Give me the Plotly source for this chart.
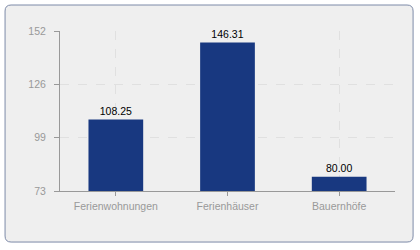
import plotly.graph_objects as go

categories = ["Ferienwohnungen", "Ferienhäuser", "Bauernhöfe"]
values = [108.25, 146.31, 80.00]
y_tickvals = [73, 99.33, 125.67, 152]
y_ticktext = ["73", "99", "126", "152"]

font_family = "Liberation Sans"

# outer rounded frame, in paper coordinates of the plot area (335 x 160 px)
L, R, T, B = -0.164, 1.054, 1.1625, -0.319
rx, ry = 0.018, 0.0375
frame_path = (
    f"M {L+rx},{T} L {R-rx},{T} Q {R},{T} {R},{T-ry} "
    f"L {R},{B+ry} Q {R},{B} {R-rx},{B} "
    f"L {L+rx},{B} Q {L},{B} {L},{B+ry} "
    f"L {L},{T-ry} Q {L},{T} {L+rx},{T} Z"
)

fig = go.Figure()
fig.add_trace(go.Bar(
    x=categories, y=values,
    width=0.49,
    marker=dict(color="#183880", line=dict(width=0)),
    text=[f"{v:.2f}" for v in values],
    textposition="outside",
    textfont=dict(color="#000000", size=10.5, family=font_family),
    cliponaxis=False,
))

fig.update_layout(
    width=420, height=250,
    margin=dict(l=60, r=25, t=31, b=59),
    paper_bgcolor="white",
    plot_bgcolor="#f9f9f9",
    showlegend=False,
    font=dict(family=font_family, size=10.5, color="#999999"),
    shapes=[dict(
        type="path", xref="paper", yref="paper", layer="below",
        path=frame_path,
        fillcolor="#efefef", line=dict(color="#7d8aa8", width=1),
    )],
)
fig.update_xaxes(
    showline=True, linecolor="#999999", linewidth=1,
    showgrid=True, gridcolor="#e0e0e0", griddash="dash",
    ticks="outside", ticklen=4, tickcolor="#999999",
    tickfont=dict(color="#999999", size=10.5),
    ticklabelstandoff=1,
)
fig.update_yaxes(
    range=[73, 152],
    tickvals=y_tickvals, ticktext=y_ticktext,
    showline=True, linecolor="#999999", linewidth=1,
    showgrid=True, gridcolor="#e0e0e0", griddash="dash",
    ticks="outside", ticklen=5, tickcolor="#999999",
    tickfont=dict(color="#999999", size=10.5),
    ticklabelstandoff=6,
    zeroline=False,
)
fig.write_html("out.html")
